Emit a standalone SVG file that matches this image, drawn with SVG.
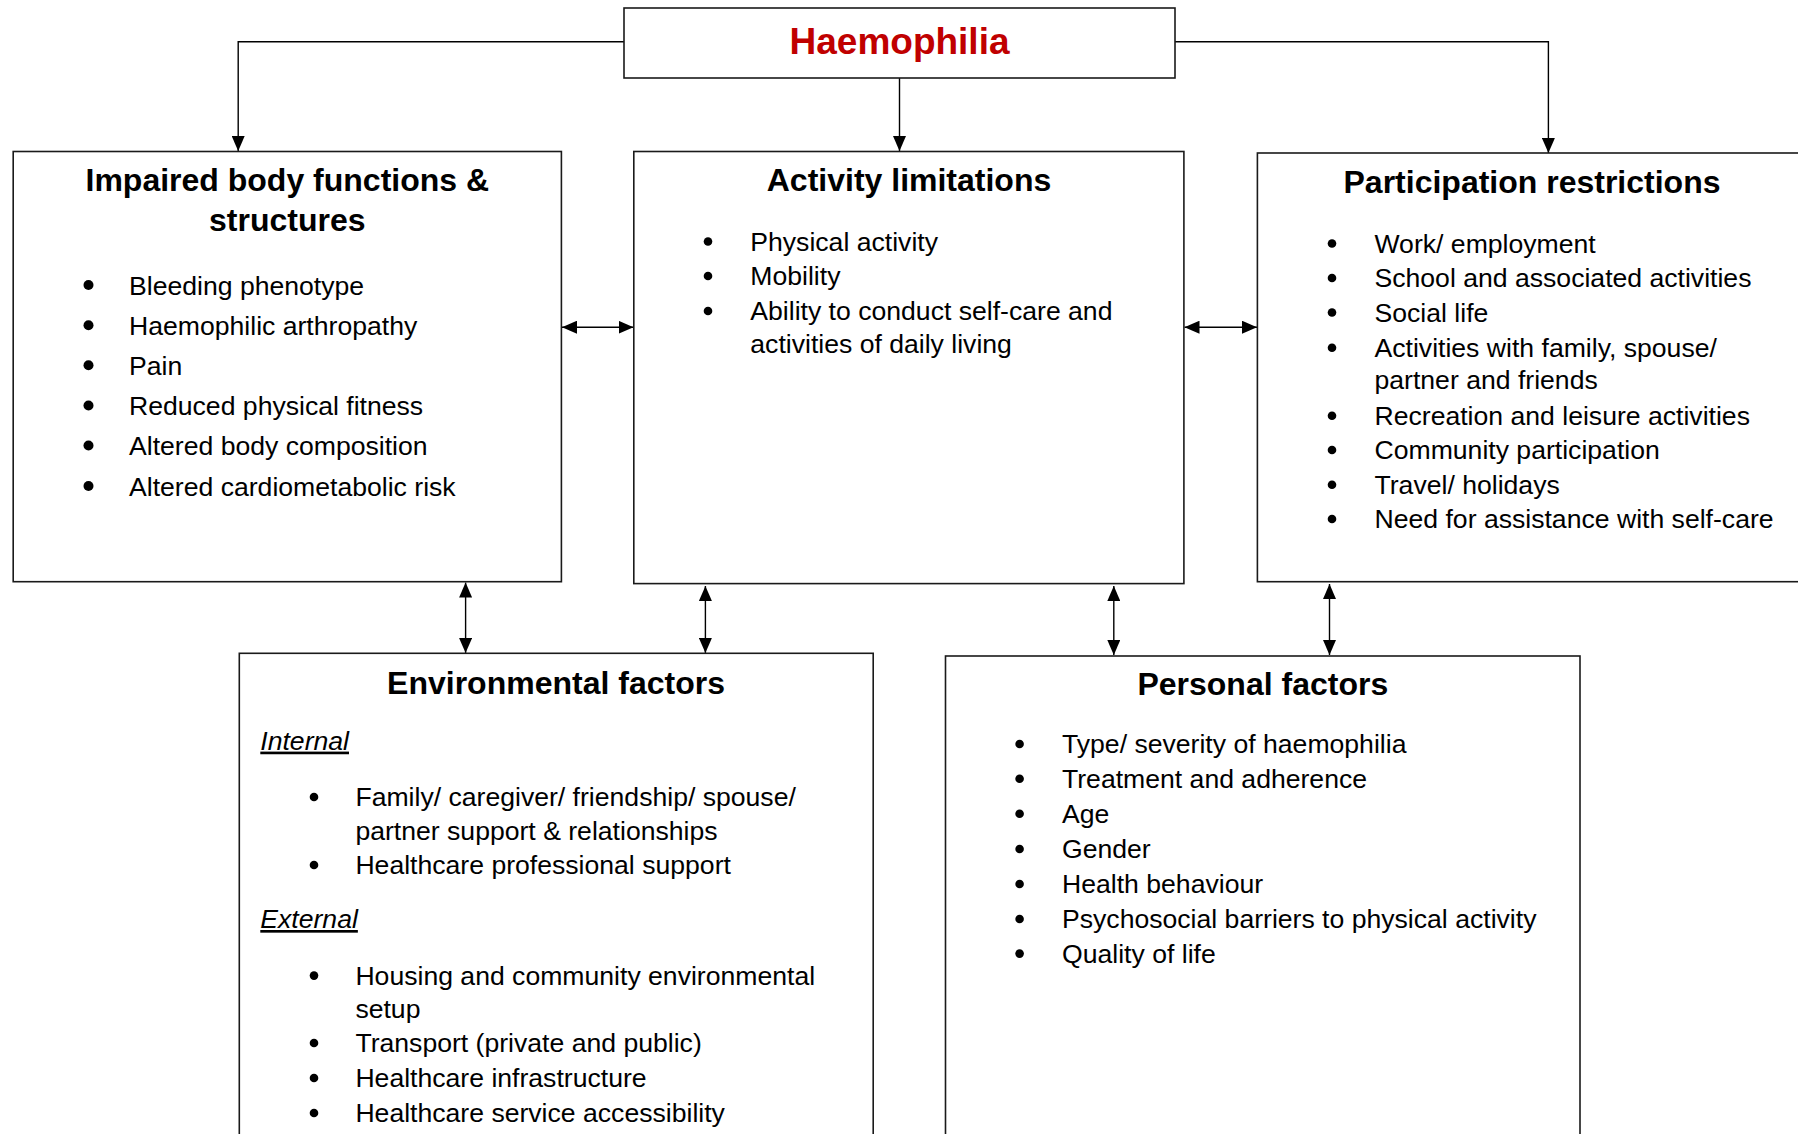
<svg xmlns="http://www.w3.org/2000/svg" width="1798" height="1134" viewBox="0 0 1798 1134">
<style>
.box{fill:#fff;stroke:#1a1a1a;stroke-width:1.6}
.ttl{font-family:"Liberation Sans",Arial,sans-serif;font-weight:bold;font-size:32px;fill:#000;text-anchor:middle}
.main{font-family:"Liberation Sans",Arial,sans-serif;font-weight:bold;font-size:37px;fill:#c00000;text-anchor:middle}
.t{font-family:"Liberation Sans",Arial,sans-serif;font-size:26.6px;fill:#000}
.sub{font-family:"Liberation Sans",Arial,sans-serif;font-size:26.6px;font-style:italic;text-decoration:underline;fill:#000}
.dot{fill:#000}
.con{fill:none;stroke:#000;stroke-width:1.4}
</style>
<defs>
<marker id="ah" markerUnits="userSpaceOnUse" markerWidth="15" markerHeight="13" refX="15" refY="6.5" orient="auto-start-reverse">
<path d="M0,0 L15,6.5 L0,13 z" fill="#000"/>
</marker>
</defs>
<rect width="1798" height="1134" fill="#fff"/>
<g id="connectors">
<path class="con" d="M624,41.7 H238.2 V151" marker-end="url(#ah)"/>
<path class="con" d="M899.5,78 V151" marker-end="url(#ah)"/>
<path class="con" d="M1175,41.7 H1548.4 V153" marker-end="url(#ah)"/>
<path class="con" d="M562,327.2 H633.5" marker-start="url(#ah)" marker-end="url(#ah)"/>
<path class="con" d="M1184.5,327.2 H1257" marker-start="url(#ah)" marker-end="url(#ah)"/>
<path class="con" d="M465.6,582.5 V653" marker-start="url(#ah)" marker-end="url(#ah)"/>
<path class="con" d="M705.4,586 V653" marker-start="url(#ah)" marker-end="url(#ah)"/>
<path class="con" d="M1113.8,586 V655" marker-start="url(#ah)" marker-end="url(#ah)"/>
<path class="con" d="M1329.5,584 V655" marker-start="url(#ah)" marker-end="url(#ah)"/>
</g>
<g id="haemophilia">
<rect class="box" x="624" y="8" width="551" height="70"/>
<text class="main" x="899.5" y="53.5">Haemophilia</text>
</g>
<g id="impaired">
<rect class="box" x="13.2" y="151.5" width="548.2" height="430.2"/>
<text class="ttl" x="287.3" y="191">Impaired body functions &amp;</text>
<text class="ttl" x="287.3" y="231">structures</text>
<circle class="dot" cx="88.5" cy="285" r="5"/><text class="t" x="129" y="294.7">Bleeding phenotype</text>
<circle class="dot" cx="88.5" cy="325.3" r="5"/><text class="t" x="129" y="335">Haemophilic arthropathy</text>
<circle class="dot" cx="88.5" cy="365.3" r="5"/><text class="t" x="129" y="375">Pain</text>
<circle class="dot" cx="88.5" cy="405.5" r="5"/><text class="t" x="129" y="415.2">Reduced physical fitness</text>
<circle class="dot" cx="88.5" cy="445.5" r="5"/><text class="t" x="129" y="455.2">Altered body composition</text>
<circle class="dot" cx="88.5" cy="486" r="5"/><text class="t" x="129" y="495.6">Altered cardiometabolic risk</text>
</g>
<g id="activity">
<rect class="box" x="633.8" y="151.5" width="550.1" height="432.1"/>
<text class="ttl" x="909" y="191">Activity limitations</text>
<circle class="dot" cx="708" cy="241.5" r="4.3"/><text class="t" x="750.3" y="250.7">Physical activity</text>
<circle class="dot" cx="708" cy="276" r="4.3"/><text class="t" x="750.3" y="285.2">Mobility</text>
<circle class="dot" cx="708" cy="311" r="4.3"/><text class="t" x="750.3" y="320">Ability to conduct self-care and</text>
<text class="t" x="750.3" y="353">activities of daily living</text>
</g>
<g id="participation">
<rect class="box" x="1257.4" y="153" width="560" height="428.7"/>
<text class="ttl" x="1532" y="193">Participation restrictions</text>
<circle class="dot" cx="1332" cy="243.5" r="4.3"/><text class="t" x="1374.5" y="252.6">Work/ employment</text>
<circle class="dot" cx="1332" cy="278" r="4.3"/><text class="t" x="1374.5" y="287">School and associated activities</text>
<circle class="dot" cx="1332" cy="312.5" r="4.3"/><text class="t" x="1374.5" y="321.5">Social life</text>
<circle class="dot" cx="1332" cy="347.7" r="4.3"/><text class="t" x="1374.5" y="356.7">Activities with family, spouse/</text>
<text class="t" x="1374.5" y="388.6">partner and friends</text>
<circle class="dot" cx="1332" cy="415.8" r="4.3"/><text class="t" x="1374.5" y="424.8">Recreation and leisure activities</text>
<circle class="dot" cx="1332" cy="450" r="4.3"/><text class="t" x="1374.5" y="459">Community participation</text>
<circle class="dot" cx="1332" cy="484.7" r="4.3"/><text class="t" x="1374.5" y="493.7">Travel/ holidays</text>
<circle class="dot" cx="1332" cy="519" r="4.3"/><text class="t" x="1374.5" y="528">Need for assistance with self-care</text>
</g>
<g id="environmental">
<rect class="box" x="239.3" y="653.3" width="633.9" height="500"/>
<text class="ttl" x="556" y="693.6">Environmental factors</text>
<text class="sub" x="260.3" y="749.6">Internal</text>
<circle class="dot" cx="314" cy="797" r="4.3"/><text class="t" x="355.4" y="806">Family/ caregiver/ friendship/ spouse/</text>
<text class="t" x="355.4" y="840">partner support &amp; relationships</text>
<circle class="dot" cx="314" cy="865" r="4.3"/><text class="t" x="355.4" y="874">Healthcare professional support</text>
<text class="sub" x="260.3" y="928">External</text>
<circle class="dot" cx="314" cy="975.6" r="4.3"/><text class="t" x="355.4" y="984.6">Housing and community environmental</text>
<text class="t" x="355.4" y="1017.5">setup</text>
<circle class="dot" cx="314" cy="1043" r="4.3"/><text class="t" x="355.4" y="1052">Transport (private and public)</text>
<circle class="dot" cx="314" cy="1078" r="4.3"/><text class="t" x="355.4" y="1087">Healthcare infrastructure</text>
<circle class="dot" cx="314" cy="1113" r="4.3"/><text class="t" x="355.4" y="1122">Healthcare service accessibility</text>
</g>
<g id="personal">
<rect class="box" x="945.5" y="656" width="634.5" height="500"/>
<text class="ttl" x="1262.8" y="695.4">Personal factors</text>
<circle class="dot" cx="1019.6" cy="744" r="4.3"/><text class="t" x="1062" y="753">Type/ severity of haemophilia</text>
<circle class="dot" cx="1019.6" cy="778.7" r="4.3"/><text class="t" x="1062" y="787.7">Treatment and adherence</text>
<circle class="dot" cx="1019.6" cy="813.8" r="4.3"/><text class="t" x="1062" y="822.8">Age</text>
<circle class="dot" cx="1019.6" cy="849" r="4.3"/><text class="t" x="1062" y="858">Gender</text>
<circle class="dot" cx="1019.6" cy="884" r="4.3"/><text class="t" x="1062" y="893">Health behaviour</text>
<circle class="dot" cx="1019.6" cy="919" r="4.3"/><text class="t" x="1062" y="928">Psychosocial barriers to physical activity</text>
<circle class="dot" cx="1019.6" cy="953.6" r="4.3"/><text class="t" x="1062" y="962.6">Quality of life</text>
</g>
</svg>
